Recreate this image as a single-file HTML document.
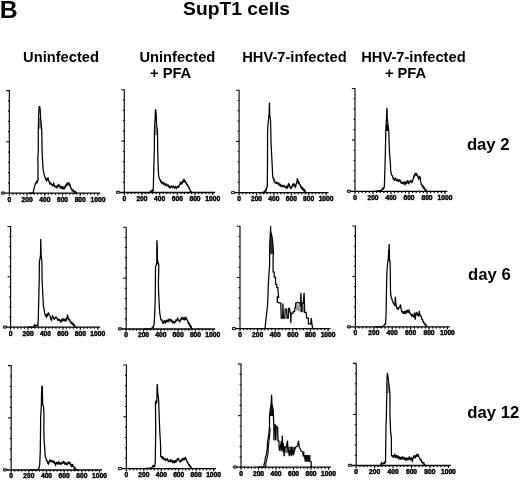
<!DOCTYPE html>
<html><head><meta charset="utf-8"><style>
html,body{margin:0;padding:0;background:#fff;width:520px;height:480px;overflow:hidden}
svg{position:absolute;left:0;top:0;filter:grayscale(1) blur(0.3px)}
.b{font-family:"Liberation Sans",sans-serif;font-weight:bold;fill:#000}
.yl{font-family:"Liberation Sans",sans-serif;font-weight:bold;font-size:6.2px;text-anchor:middle;dominant-baseline:central;fill:#000;stroke:#000;stroke-width:0.3px}
.tl{font-family:"Liberation Sans",sans-serif;font-weight:bold;font-size:6.7px;text-anchor:middle;fill:#000;stroke:#000;stroke-width:0.45px}
</style></head><body>
<svg width="520" height="480" viewBox="0 0 520 480">
<text class="b" x="-0.2" y="17.8" style="font-size:24.8px">B</text>
<text class="b" x="183.1" y="15.3" style="font-size:19.25px">SupT1 cells</text>
<text class="b" x="23.1" y="61.9" style="font-size:14.7px">Uninfected</text>
<text class="b" x="139.4" y="61.8" style="font-size:14.7px">Uninfected</text>
<text class="b" x="150" y="78.3" style="font-size:14.7px">+ PFA</text>
<text class="b" x="242.2" y="61.7" style="font-size:14.7px">HHV-7-infected</text>
<text class="b" x="361.2" y="61.7" style="font-size:14.7px">HHV-7-infected</text>
<text class="b" x="384.9" y="78" style="font-size:14.7px">+ PFA</text>
<text class="b" x="466.9" y="149.6" style="font-size:16.7px">day 2</text>
<text class="b" x="468.1" y="280" style="font-size:16.7px">day 6</text>
<text class="b" x="467.3" y="418" style="font-size:16.7px">day 12</text>
<path d="M6.15,90.60H9.35V193.10" fill="none" stroke="#111" stroke-width="1.2"/>
<path d="M7.95,182.85H9.35" stroke="#000" stroke-width="1.1"/>
<path d="M7.95,172.60H9.35" stroke="#000" stroke-width="1.1"/>
<path d="M7.95,162.35H9.35" stroke="#000" stroke-width="1.1"/>
<path d="M7.95,152.10H9.35" stroke="#000" stroke-width="1.1"/>
<path d="M6.35,141.85H9.35" stroke="#000" stroke-width="1.1"/>
<path d="M7.95,131.60H9.35" stroke="#000" stroke-width="1.1"/>
<path d="M7.95,121.35H9.35" stroke="#000" stroke-width="1.1"/>
<path d="M7.95,111.10H9.35" stroke="#000" stroke-width="1.1"/>
<path d="M7.95,100.85H9.35" stroke="#000" stroke-width="1.1"/>
<path d="M4.75,193.10H100.35" stroke="#000" stroke-width="1.3"/>
<path d="M9.35,193.10v2.6" stroke="#000" stroke-width="1.2"/>
<path d="M12.89,193.10v1.6" stroke="#000" stroke-width="1.2"/>
<path d="M16.44,193.10v1.6" stroke="#000" stroke-width="1.2"/>
<path d="M19.98,193.10v1.6" stroke="#000" stroke-width="1.2"/>
<path d="M23.53,193.10v1.6" stroke="#000" stroke-width="1.2"/>
<path d="M27.07,193.10v2.6" stroke="#000" stroke-width="1.2"/>
<path d="M30.61,193.10v1.6" stroke="#000" stroke-width="1.2"/>
<path d="M34.16,193.10v1.6" stroke="#000" stroke-width="1.2"/>
<path d="M37.70,193.10v1.6" stroke="#000" stroke-width="1.2"/>
<path d="M41.25,193.10v1.6" stroke="#000" stroke-width="1.2"/>
<path d="M44.79,193.10v2.6" stroke="#000" stroke-width="1.2"/>
<path d="M48.33,193.10v1.6" stroke="#000" stroke-width="1.2"/>
<path d="M51.88,193.10v1.6" stroke="#000" stroke-width="1.2"/>
<path d="M55.42,193.10v1.6" stroke="#000" stroke-width="1.2"/>
<path d="M58.97,193.10v1.6" stroke="#000" stroke-width="1.2"/>
<path d="M62.51,193.10v2.6" stroke="#000" stroke-width="1.2"/>
<path d="M66.05,193.10v1.6" stroke="#000" stroke-width="1.2"/>
<path d="M69.60,193.10v1.6" stroke="#000" stroke-width="1.2"/>
<path d="M73.14,193.10v1.6" stroke="#000" stroke-width="1.2"/>
<path d="M76.69,193.10v1.6" stroke="#000" stroke-width="1.2"/>
<path d="M80.23,193.10v2.6" stroke="#000" stroke-width="1.2"/>
<path d="M83.77,193.10v1.6" stroke="#000" stroke-width="1.2"/>
<path d="M87.32,193.10v1.6" stroke="#000" stroke-width="1.2"/>
<path d="M90.86,193.10v1.6" stroke="#000" stroke-width="1.2"/>
<path d="M94.41,193.10v1.6" stroke="#000" stroke-width="1.2"/>
<path d="M97.95,193.10v2.6" stroke="#000" stroke-width="1.2"/>
<text transform="translate(2.75,193.00) rotate(-90)" class="yl">0</text>
<text x="9.35" y="201.50" class="tl">0</text>
<text x="27.07" y="201.50" class="tl">200</text>
<text x="44.79" y="201.50" class="tl">400</text>
<text x="62.51" y="201.50" class="tl">600</text>
<text x="80.23" y="201.50" class="tl">800</text>
<text x="97.95" y="201.50" class="tl">1000</text>
<path d="M38.60,118.00 L40.60,118.00 L41.20,124.00 L41.70,128.70 L38.30,128.70Z" fill="#888"/>
<path d="M29.00,193.10 L33.20,193.10 L33.40,191.20 L34.10,188.40 L34.75,185.60 L35.10,185.42 L35.45,183.01 L35.80,182.80 L36.22,183.09 L36.65,181.59 L37.08,182.47 L37.50,181.50 L37.75,180.64 L38.00,181.00 L38.00,165.00 L37.80,159.40 L38.30,150.00 L38.30,128.70 L38.60,118.00 L38.90,109.00 L39.30,106.00 L39.55,107.23 L39.80,107.00 L40.20,110.00 L40.40,114.00 L40.60,118.00 L41.20,124.00 L41.70,128.70 L42.10,150.00 L42.50,159.40 L43.00,168.75 L43.90,173.40 L44.80,177.20 L45.17,177.39 L45.53,179.37 L45.90,179.50 L46.30,179.10 L46.70,180.80 L47.10,180.30 L47.47,178.76 L47.83,179.07 L48.20,177.60 L48.60,181.00 L49.00,181.08 L49.40,182.60 L49.77,183.54 L50.13,182.57 L50.50,183.40 L50.90,184.54 L51.30,183.34 L51.70,184.50 L52.07,185.64 L52.43,184.53 L52.80,185.70 L53.20,185.13 L53.60,183.40 L54.00,183.99 L54.40,186.00 L54.77,187.03 L55.13,185.83 L55.50,186.80 L55.90,187.33 L56.30,186.09 L56.70,186.50 L57.07,187.35 L57.43,186.29 L57.80,187.20 L58.60,183.80 L59.00,185.92 L59.40,186.50 L59.77,185.94 L60.13,187.60 L60.50,187.20 L60.90,186.84 L61.30,188.56 L61.70,188.40 L62.07,187.13 L62.43,187.99 L62.80,186.80 L63.20,186.98 L63.60,188.84 L64.00,188.80 L64.40,187.43 L64.80,188.01 L65.20,186.50 L65.57,185.41 L65.93,186.18 L66.30,185.30 L66.70,184.16 L67.10,185.06 L67.50,183.80 L67.85,182.84 L68.20,183.00 L68.60,184.08 L69.00,183.24 L69.40,184.50 L69.77,185.71 L70.13,185.17 L70.50,186.50 L70.90,188.21 L71.30,188.80 L71.70,188.64 L72.10,190.80 L72.50,190.70 L72.88,190.28 L73.25,191.61 L73.62,190.72 L74.00,191.50 L74.38,192.22 L74.75,190.87 L75.12,192.24 L75.50,191.80 L76.70,193.10 L77.10,193.10" fill="none" stroke="#000" stroke-width="1.25" stroke-linejoin="miter" stroke-miterlimit="3"/>
<path d="M121.10,89.75H124.30V192.50" fill="none" stroke="#111" stroke-width="1.2"/>
<path d="M122.90,182.22H124.30" stroke="#000" stroke-width="1.1"/>
<path d="M122.90,171.95H124.30" stroke="#000" stroke-width="1.1"/>
<path d="M122.90,161.68H124.30" stroke="#000" stroke-width="1.1"/>
<path d="M122.90,151.40H124.30" stroke="#000" stroke-width="1.1"/>
<path d="M121.30,141.12H124.30" stroke="#000" stroke-width="1.1"/>
<path d="M122.90,130.85H124.30" stroke="#000" stroke-width="1.1"/>
<path d="M122.90,120.58H124.30" stroke="#000" stroke-width="1.1"/>
<path d="M122.90,110.30H124.30" stroke="#000" stroke-width="1.1"/>
<path d="M122.90,100.03H124.30" stroke="#000" stroke-width="1.1"/>
<path d="M119.70,192.50H215.10" stroke="#000" stroke-width="1.3"/>
<path d="M124.30,192.50v2.6" stroke="#000" stroke-width="1.2"/>
<path d="M127.84,192.50v1.6" stroke="#000" stroke-width="1.2"/>
<path d="M131.37,192.50v1.6" stroke="#000" stroke-width="1.2"/>
<path d="M134.91,192.50v1.6" stroke="#000" stroke-width="1.2"/>
<path d="M138.44,192.50v1.6" stroke="#000" stroke-width="1.2"/>
<path d="M141.98,192.50v2.6" stroke="#000" stroke-width="1.2"/>
<path d="M145.52,192.50v1.6" stroke="#000" stroke-width="1.2"/>
<path d="M149.05,192.50v1.6" stroke="#000" stroke-width="1.2"/>
<path d="M152.59,192.50v1.6" stroke="#000" stroke-width="1.2"/>
<path d="M156.12,192.50v1.6" stroke="#000" stroke-width="1.2"/>
<path d="M159.66,192.50v2.6" stroke="#000" stroke-width="1.2"/>
<path d="M163.20,192.50v1.6" stroke="#000" stroke-width="1.2"/>
<path d="M166.73,192.50v1.6" stroke="#000" stroke-width="1.2"/>
<path d="M170.27,192.50v1.6" stroke="#000" stroke-width="1.2"/>
<path d="M173.80,192.50v1.6" stroke="#000" stroke-width="1.2"/>
<path d="M177.34,192.50v2.6" stroke="#000" stroke-width="1.2"/>
<path d="M180.88,192.50v1.6" stroke="#000" stroke-width="1.2"/>
<path d="M184.41,192.50v1.6" stroke="#000" stroke-width="1.2"/>
<path d="M187.95,192.50v1.6" stroke="#000" stroke-width="1.2"/>
<path d="M191.48,192.50v1.6" stroke="#000" stroke-width="1.2"/>
<path d="M195.02,192.50v2.6" stroke="#000" stroke-width="1.2"/>
<path d="M198.56,192.50v1.6" stroke="#000" stroke-width="1.2"/>
<path d="M202.09,192.50v1.6" stroke="#000" stroke-width="1.2"/>
<path d="M205.63,192.50v1.6" stroke="#000" stroke-width="1.2"/>
<path d="M209.16,192.50v1.6" stroke="#000" stroke-width="1.2"/>
<path d="M212.70,192.50v2.6" stroke="#000" stroke-width="1.2"/>
<text transform="translate(117.70,192.40) rotate(-90)" class="yl">0</text>
<text x="124.30" y="200.90" class="tl">0</text>
<text x="141.98" y="200.90" class="tl">200</text>
<text x="159.66" y="200.90" class="tl">400</text>
<text x="177.34" y="200.90" class="tl">600</text>
<text x="195.02" y="200.90" class="tl">800</text>
<text x="212.70" y="200.90" class="tl">1000</text>
<path d="M154.60,126.00 L156.50,124.80 L157.40,130.00 L157.50,135.20 L154.40,135.20Z" fill="#999"/>
<path d="M144.00,192.50 L149.70,192.50 L150.20,191.70 L150.65,191.87 L151.10,191.00 L151.45,190.20 L151.80,191.62 L152.15,190.29 L152.50,190.80 L152.88,191.19 L153.25,190.30 L153.90,164.00 L154.40,150.00 L154.40,135.20 L154.60,126.00 L155.10,120.00 L155.30,112.00 L155.50,109.70 L155.70,109.73 L155.90,111.00 L156.30,116.00 L156.50,124.80 L157.40,130.00 L157.50,135.20 L157.70,150.00 L158.10,164.00 L158.60,175.30 L159.10,177.20 L159.55,179.29 L160.00,180.00 L160.35,179.84 L160.70,181.66 L161.05,181.24 L161.40,182.30 L161.78,183.25 L162.16,182.08 L162.54,183.62 L162.92,182.62 L163.30,183.30 L163.77,184.22 L164.23,183.19 L164.70,184.20 L165.08,184.85 L165.46,183.62 L165.84,185.27 L166.22,184.11 L166.60,184.70 L166.96,185.47 L167.32,184.61 L167.68,186.32 L168.04,185.22 L168.40,186.10 L168.78,186.83 L169.16,185.84 L169.54,187.13 L169.92,186.27 L170.30,187.00 L170.68,187.54 L171.06,186.20 L171.44,187.31 L171.82,186.13 L172.20,186.60 L172.56,187.23 L172.92,186.13 L173.28,187.41 L173.64,186.43 L174.00,187.00 L174.38,187.85 L174.76,186.54 L175.14,187.99 L175.52,186.86 L175.90,187.50 L176.28,188.20 L176.66,186.54 L177.04,187.72 L177.42,186.51 L177.80,187.00 L178.23,187.31 L178.65,185.49 L179.07,186.58 L179.50,185.40 L180.30,182.30 L180.70,182.18 L181.10,184.05 L181.50,183.80 L181.87,182.61 L182.23,183.38 L182.60,182.30 L183.00,180.73 L183.40,181.26 L183.80,179.60 L184.17,179.48 L184.53,181.51 L184.90,181.50 L185.30,181.23 L185.70,182.79 L186.10,182.70 L186.47,182.78 L186.83,184.70 L187.20,184.60 L187.60,184.62 L188.00,186.40 L188.40,186.50 L188.77,186.61 L189.13,188.74 L189.50,188.80 L189.90,189.10 L190.30,190.80 L190.70,191.85 L191.10,191.70 L192.00,192.50" fill="none" stroke="#000" stroke-width="1.25" stroke-linejoin="miter" stroke-miterlimit="3"/>
<path d="M235.90,90.25H239.10V192.60" fill="none" stroke="#111" stroke-width="1.2"/>
<path d="M237.70,182.37H239.10" stroke="#000" stroke-width="1.1"/>
<path d="M237.70,172.13H239.10" stroke="#000" stroke-width="1.1"/>
<path d="M237.70,161.90H239.10" stroke="#000" stroke-width="1.1"/>
<path d="M237.70,151.66H239.10" stroke="#000" stroke-width="1.1"/>
<path d="M236.10,141.43H239.10" stroke="#000" stroke-width="1.1"/>
<path d="M237.70,131.19H239.10" stroke="#000" stroke-width="1.1"/>
<path d="M237.70,120.95H239.10" stroke="#000" stroke-width="1.1"/>
<path d="M237.70,110.72H239.10" stroke="#000" stroke-width="1.1"/>
<path d="M237.70,100.48H239.10" stroke="#000" stroke-width="1.1"/>
<path d="M234.50,192.60H328.50" stroke="#000" stroke-width="1.3"/>
<path d="M239.10,192.60v2.6" stroke="#000" stroke-width="1.2"/>
<path d="M242.58,192.60v1.6" stroke="#000" stroke-width="1.2"/>
<path d="M246.06,192.60v1.6" stroke="#000" stroke-width="1.2"/>
<path d="M249.54,192.60v1.6" stroke="#000" stroke-width="1.2"/>
<path d="M253.02,192.60v1.6" stroke="#000" stroke-width="1.2"/>
<path d="M256.50,192.60v2.6" stroke="#000" stroke-width="1.2"/>
<path d="M259.98,192.60v1.6" stroke="#000" stroke-width="1.2"/>
<path d="M263.46,192.60v1.6" stroke="#000" stroke-width="1.2"/>
<path d="M266.94,192.60v1.6" stroke="#000" stroke-width="1.2"/>
<path d="M270.42,192.60v1.6" stroke="#000" stroke-width="1.2"/>
<path d="M273.90,192.60v2.6" stroke="#000" stroke-width="1.2"/>
<path d="M277.38,192.60v1.6" stroke="#000" stroke-width="1.2"/>
<path d="M280.86,192.60v1.6" stroke="#000" stroke-width="1.2"/>
<path d="M284.34,192.60v1.6" stroke="#000" stroke-width="1.2"/>
<path d="M287.82,192.60v1.6" stroke="#000" stroke-width="1.2"/>
<path d="M291.30,192.60v2.6" stroke="#000" stroke-width="1.2"/>
<path d="M294.78,192.60v1.6" stroke="#000" stroke-width="1.2"/>
<path d="M298.26,192.60v1.6" stroke="#000" stroke-width="1.2"/>
<path d="M301.74,192.60v1.6" stroke="#000" stroke-width="1.2"/>
<path d="M305.22,192.60v1.6" stroke="#000" stroke-width="1.2"/>
<path d="M308.70,192.60v2.6" stroke="#000" stroke-width="1.2"/>
<path d="M312.18,192.60v1.6" stroke="#000" stroke-width="1.2"/>
<path d="M315.66,192.60v1.6" stroke="#000" stroke-width="1.2"/>
<path d="M319.14,192.60v1.6" stroke="#000" stroke-width="1.2"/>
<path d="M322.62,192.60v1.6" stroke="#000" stroke-width="1.2"/>
<path d="M326.10,192.60v2.6" stroke="#000" stroke-width="1.2"/>
<text transform="translate(232.50,192.50) rotate(-90)" class="yl">0</text>
<text x="239.10" y="201.00" class="tl">0</text>
<text x="256.50" y="201.00" class="tl">200</text>
<text x="273.90" y="201.00" class="tl">400</text>
<text x="291.30" y="201.00" class="tl">600</text>
<text x="308.70" y="201.00" class="tl">800</text>
<text x="326.10" y="201.00" class="tl">1000</text>
<path d="M259.00,192.60 L262.80,192.60 L263.90,191.90 L264.27,192.41 L264.65,190.57 L265.02,191.57 L265.40,190.80 L265.77,189.79 L266.13,190.55 L266.50,189.30 L266.90,187.28 L267.30,186.70 L267.50,160.60 L267.60,130.00 L268.20,122.00 L269.10,114.25 L269.30,106.00 L269.45,102.90 L269.60,106.00 L269.70,114.25 L270.50,120.00 L270.80,131.60 L271.10,145.00 L271.70,155.40 L272.20,165.80 L272.70,176.25 L273.05,177.99 L273.40,177.77 L273.75,179.40 L274.10,180.77 L274.45,180.13 L274.80,181.50 L275.30,182.92 L275.80,183.00 L276.20,182.59 L276.60,183.87 L277.00,182.77 L277.40,183.50 L277.90,183.96 L278.40,183.00 L278.77,182.90 L279.13,185.18 L279.50,185.10 L279.92,184.65 L280.34,186.12 L280.76,185.13 L281.18,186.39 L281.60,186.10 L282.00,185.61 L282.40,186.73 L282.80,185.52 L283.20,186.70 L283.60,186.10 L284.02,185.55 L284.44,187.19 L284.86,186.10 L285.28,187.54 L285.70,187.20 L286.12,186.71 L286.54,187.78 L286.96,186.68 L287.38,187.84 L287.80,187.20 L288.00,185.40 L288.40,184.07 L288.80,185.03 L289.20,183.80 L289.90,187.30 L290.30,187.36 L290.70,188.50 L291.07,188.50 L291.43,186.23 L291.80,186.20 L292.20,186.65 L292.60,184.90 L293.00,185.40 L293.40,185.59 L293.80,183.60 L294.20,183.80 L294.57,185.56 L294.93,185.34 L295.30,187.30 L295.70,186.74 L296.10,184.60 L296.45,183.32 L296.80,183.10 L297.40,178.10 L298.00,181.90 L298.40,183.02 L298.80,181.99 L299.20,183.10 L299.55,184.48 L299.90,184.60 L300.30,184.90 L300.70,186.50 L301.07,187.54 L301.43,186.52 L301.80,187.70 L302.20,188.84 L302.60,187.95 L303.00,189.20 L303.40,190.19 L303.80,189.24 L304.20,190.40 L304.57,191.53 L304.93,190.51 L305.30,191.50 L306.10,192.60 L307.00,192.60" fill="none" stroke="#000" stroke-width="1.25" stroke-linejoin="miter" stroke-miterlimit="3"/>
<path d="M351.80,88.50H355.00V191.30" fill="none" stroke="#111" stroke-width="1.2"/>
<path d="M353.60,181.02H355.00" stroke="#000" stroke-width="1.1"/>
<path d="M353.60,170.74H355.00" stroke="#000" stroke-width="1.1"/>
<path d="M353.60,160.46H355.00" stroke="#000" stroke-width="1.1"/>
<path d="M353.60,150.18H355.00" stroke="#000" stroke-width="1.1"/>
<path d="M352.00,139.90H355.00" stroke="#000" stroke-width="1.1"/>
<path d="M353.60,129.62H355.00" stroke="#000" stroke-width="1.1"/>
<path d="M353.60,119.34H355.00" stroke="#000" stroke-width="1.1"/>
<path d="M353.60,109.06H355.00" stroke="#000" stroke-width="1.1"/>
<path d="M353.60,98.78H355.00" stroke="#000" stroke-width="1.1"/>
<path d="M350.40,191.30H447.40" stroke="#000" stroke-width="1.3"/>
<path d="M355.00,191.30v2.6" stroke="#000" stroke-width="1.2"/>
<path d="M358.60,191.30v1.6" stroke="#000" stroke-width="1.2"/>
<path d="M362.20,191.30v1.6" stroke="#000" stroke-width="1.2"/>
<path d="M365.80,191.30v1.6" stroke="#000" stroke-width="1.2"/>
<path d="M369.40,191.30v1.6" stroke="#000" stroke-width="1.2"/>
<path d="M373.00,191.30v2.6" stroke="#000" stroke-width="1.2"/>
<path d="M376.60,191.30v1.6" stroke="#000" stroke-width="1.2"/>
<path d="M380.20,191.30v1.6" stroke="#000" stroke-width="1.2"/>
<path d="M383.80,191.30v1.6" stroke="#000" stroke-width="1.2"/>
<path d="M387.40,191.30v1.6" stroke="#000" stroke-width="1.2"/>
<path d="M391.00,191.30v2.6" stroke="#000" stroke-width="1.2"/>
<path d="M394.60,191.30v1.6" stroke="#000" stroke-width="1.2"/>
<path d="M398.20,191.30v1.6" stroke="#000" stroke-width="1.2"/>
<path d="M401.80,191.30v1.6" stroke="#000" stroke-width="1.2"/>
<path d="M405.40,191.30v1.6" stroke="#000" stroke-width="1.2"/>
<path d="M409.00,191.30v2.6" stroke="#000" stroke-width="1.2"/>
<path d="M412.60,191.30v1.6" stroke="#000" stroke-width="1.2"/>
<path d="M416.20,191.30v1.6" stroke="#000" stroke-width="1.2"/>
<path d="M419.80,191.30v1.6" stroke="#000" stroke-width="1.2"/>
<path d="M423.40,191.30v1.6" stroke="#000" stroke-width="1.2"/>
<path d="M427.00,191.30v2.6" stroke="#000" stroke-width="1.2"/>
<path d="M430.60,191.30v1.6" stroke="#000" stroke-width="1.2"/>
<path d="M434.20,191.30v1.6" stroke="#000" stroke-width="1.2"/>
<path d="M437.80,191.30v1.6" stroke="#000" stroke-width="1.2"/>
<path d="M441.40,191.30v1.6" stroke="#000" stroke-width="1.2"/>
<path d="M445.00,191.30v2.6" stroke="#000" stroke-width="1.2"/>
<text transform="translate(348.40,191.20) rotate(-90)" class="yl">0</text>
<text x="355.00" y="199.70" class="tl">0</text>
<text x="373.00" y="199.70" class="tl">200</text>
<text x="391.00" y="199.70" class="tl">400</text>
<text x="409.00" y="199.70" class="tl">600</text>
<text x="427.00" y="199.70" class="tl">800</text>
<text x="445.00" y="199.70" class="tl">1000</text>
<path d="M385.80,131.00 L386.10,124.00 L387.90,124.00 L388.80,131.00Z" fill="#000"/>
<path d="M375.00,191.30 L380.90,190.30 L381.40,190.61 L381.90,189.80 L382.30,188.88 L382.70,189.87 L383.10,188.34 L383.50,188.75 L383.90,188.41 L384.30,186.70 L384.70,176.25 L385.30,155.40 L385.80,131.00 L386.10,124.00 L386.60,117.00 L386.80,110.00 L386.90,108.00 L387.10,110.00 L387.20,117.00 L387.90,124.00 L388.80,131.00 L389.20,145.00 L389.70,155.40 L390.50,165.80 L390.75,172.00 L391.10,172.57 L391.45,174.62 L391.80,175.20 L392.30,175.50 L392.80,177.30 L393.17,178.56 L393.53,178.15 L393.90,179.40 L394.27,179.92 L394.65,178.22 L395.02,179.32 L395.40,178.30 L395.77,178.37 L396.13,180.38 L396.50,180.40 L396.88,180.00 L397.25,181.33 L397.62,180.02 L398.00,180.90 L398.40,181.30 L398.80,179.68 L399.20,180.84 L399.60,179.90 L400.10,180.20 L400.60,181.50 L401.00,182.60 L401.40,181.58 L401.80,183.20 L402.20,183.00 L402.60,182.64 L403.00,184.01 L403.40,182.74 L403.80,183.50 L404.20,184.08 L404.60,182.47 L405.00,183.10 L405.40,183.94 L405.80,182.59 L406.20,183.50 L406.57,183.21 L406.93,180.96 L407.30,180.80 L407.70,182.19 L408.10,181.55 L408.50,183.10 L408.87,183.59 L409.23,182.06 L409.60,182.30 L410.00,182.19 L410.40,180.48 L410.80,180.40 L411.18,181.66 L411.55,180.73 L411.93,182.51 L412.30,182.30 L413.50,177.70 L413.87,176.22 L414.23,176.54 L414.60,175.00 L415.00,173.90 L415.40,174.59 L415.80,173.50 L416.17,173.33 L416.53,175.17 L416.90,175.00 L417.30,174.86 L417.70,176.96 L418.10,176.90 L418.45,177.27 L418.80,179.20 L419.20,178.60 L419.60,176.50 L420.00,176.70 L420.40,178.50 L420.80,182.30 L421.15,184.14 L421.50,184.60 L421.90,184.70 L422.30,186.62 L422.70,186.50 L423.07,186.11 L423.43,188.07 L423.80,187.70 L424.20,187.59 L424.60,188.80 L425.00,190.11 L425.40,190.00 L425.80,189.65 L426.20,190.40 L427.00,191.30" fill="none" stroke="#000" stroke-width="1.25" stroke-linejoin="miter" stroke-miterlimit="3"/>
<path d="M7.40,226.50H10.60V327.10" fill="none" stroke="#111" stroke-width="1.2"/>
<path d="M9.20,317.04H10.60" stroke="#000" stroke-width="1.1"/>
<path d="M9.20,306.98H10.60" stroke="#000" stroke-width="1.1"/>
<path d="M9.20,296.92H10.60" stroke="#000" stroke-width="1.1"/>
<path d="M9.20,286.86H10.60" stroke="#000" stroke-width="1.1"/>
<path d="M7.60,276.80H10.60" stroke="#000" stroke-width="1.1"/>
<path d="M9.20,266.74H10.60" stroke="#000" stroke-width="1.1"/>
<path d="M9.20,256.68H10.60" stroke="#000" stroke-width="1.1"/>
<path d="M9.20,246.62H10.60" stroke="#000" stroke-width="1.1"/>
<path d="M9.20,236.56H10.60" stroke="#000" stroke-width="1.1"/>
<path d="M6.00,327.10H100.20" stroke="#000" stroke-width="1.3"/>
<path d="M10.60,327.10v2.6" stroke="#000" stroke-width="1.2"/>
<path d="M14.09,327.10v1.6" stroke="#000" stroke-width="1.2"/>
<path d="M17.58,327.10v1.6" stroke="#000" stroke-width="1.2"/>
<path d="M21.06,327.10v1.6" stroke="#000" stroke-width="1.2"/>
<path d="M24.55,327.10v1.6" stroke="#000" stroke-width="1.2"/>
<path d="M28.04,327.10v2.6" stroke="#000" stroke-width="1.2"/>
<path d="M31.53,327.10v1.6" stroke="#000" stroke-width="1.2"/>
<path d="M35.02,327.10v1.6" stroke="#000" stroke-width="1.2"/>
<path d="M38.50,327.10v1.6" stroke="#000" stroke-width="1.2"/>
<path d="M41.99,327.10v1.6" stroke="#000" stroke-width="1.2"/>
<path d="M45.48,327.10v2.6" stroke="#000" stroke-width="1.2"/>
<path d="M48.97,327.10v1.6" stroke="#000" stroke-width="1.2"/>
<path d="M52.46,327.10v1.6" stroke="#000" stroke-width="1.2"/>
<path d="M55.94,327.10v1.6" stroke="#000" stroke-width="1.2"/>
<path d="M59.43,327.10v1.6" stroke="#000" stroke-width="1.2"/>
<path d="M62.92,327.10v2.6" stroke="#000" stroke-width="1.2"/>
<path d="M66.41,327.10v1.6" stroke="#000" stroke-width="1.2"/>
<path d="M69.90,327.10v1.6" stroke="#000" stroke-width="1.2"/>
<path d="M73.38,327.10v1.6" stroke="#000" stroke-width="1.2"/>
<path d="M76.87,327.10v1.6" stroke="#000" stroke-width="1.2"/>
<path d="M80.36,327.10v2.6" stroke="#000" stroke-width="1.2"/>
<path d="M83.85,327.10v1.6" stroke="#000" stroke-width="1.2"/>
<path d="M87.34,327.10v1.6" stroke="#000" stroke-width="1.2"/>
<path d="M90.82,327.10v1.6" stroke="#000" stroke-width="1.2"/>
<path d="M94.31,327.10v1.6" stroke="#000" stroke-width="1.2"/>
<path d="M97.80,327.10v2.6" stroke="#000" stroke-width="1.2"/>
<text transform="translate(4.00,327.00) rotate(-90)" class="yl">0</text>
<text x="10.60" y="335.50" class="tl">0</text>
<text x="28.04" y="335.50" class="tl">200</text>
<text x="45.48" y="335.50" class="tl">400</text>
<text x="62.92" y="335.50" class="tl">600</text>
<text x="80.36" y="335.50" class="tl">800</text>
<text x="97.80" y="335.50" class="tl">1000</text>
<path d="M28.00,327.10 L33.50,327.10 L33.75,327.10 L34.00,325.80 L34.39,325.13 L34.78,326.36 L35.17,325.10 L35.56,326.34 L35.95,324.81 L36.34,326.19 L36.73,324.92 L37.12,326.05 L37.51,324.77 L37.90,325.30 L38.20,321.70 L38.70,300.80 L39.20,280.00 L39.40,262.00 L40.50,255.70 L40.60,248.00 L40.70,238.90 L40.90,245.00 L41.00,250.00 L41.20,255.70 L41.90,262.00 L42.10,280.00 L42.60,290.40 L43.40,306.00 L44.10,309.20 L44.70,313.30 L45.20,315.16 L45.70,315.90 L46.05,315.32 L46.40,317.10 L46.75,316.50 L47.10,315.14 L47.45,315.52 L47.80,313.90 L48.30,312.93 L48.80,313.30 L49.10,314.95 L49.40,315.40 L49.90,315.63 L50.40,317.00 L50.90,319.25 L51.40,320.10 L52.50,315.90 L53.00,316.32 L53.50,318.00 L53.90,318.82 L54.30,317.56 L54.70,318.90 L55.10,318.50 L55.60,317.02 L56.10,317.00 L56.47,318.46 L56.83,317.54 L57.20,319.00 L57.58,319.83 L57.95,318.81 L58.33,319.93 L58.70,319.60 L59.10,319.45 L59.50,321.13 L59.90,320.15 L60.30,321.10 L60.75,322.10 L61.20,321.90 L61.57,320.23 L61.93,320.68 L62.30,319.20 L62.70,318.81 L63.10,320.35 L63.50,320.00 L63.87,319.37 L64.23,320.40 L64.60,319.60 L65.00,319.25 L65.40,320.93 L65.80,320.80 L66.17,319.48 L66.53,319.88 L66.90,318.50 L67.50,314.60 L68.10,318.10 L68.47,318.11 L68.83,319.74 L69.20,319.60 L69.60,319.49 L70.00,321.56 L70.40,321.50 L70.77,321.38 L71.13,323.32 L71.50,323.10 L71.90,322.81 L72.30,324.23 L72.70,323.80 L73.07,323.47 L73.43,325.01 L73.80,324.60 L74.20,324.62 L74.60,326.39 L75.00,326.20 L75.80,327.10 L76.50,327.10" fill="none" stroke="#000" stroke-width="1.25" stroke-linejoin="miter" stroke-miterlimit="3"/>
<path d="M123.00,227.25H126.20V329.00" fill="none" stroke="#111" stroke-width="1.2"/>
<path d="M124.80,318.82H126.20" stroke="#000" stroke-width="1.1"/>
<path d="M124.80,308.65H126.20" stroke="#000" stroke-width="1.1"/>
<path d="M124.80,298.48H126.20" stroke="#000" stroke-width="1.1"/>
<path d="M124.80,288.30H126.20" stroke="#000" stroke-width="1.1"/>
<path d="M123.20,278.12H126.20" stroke="#000" stroke-width="1.1"/>
<path d="M124.80,267.95H126.20" stroke="#000" stroke-width="1.1"/>
<path d="M124.80,257.77H126.20" stroke="#000" stroke-width="1.1"/>
<path d="M124.80,247.60H126.20" stroke="#000" stroke-width="1.1"/>
<path d="M124.80,237.43H126.20" stroke="#000" stroke-width="1.1"/>
<path d="M121.60,329.00H215.20" stroke="#000" stroke-width="1.3"/>
<path d="M126.20,329.00v2.6" stroke="#000" stroke-width="1.2"/>
<path d="M129.66,329.00v1.6" stroke="#000" stroke-width="1.2"/>
<path d="M133.13,329.00v1.6" stroke="#000" stroke-width="1.2"/>
<path d="M136.59,329.00v1.6" stroke="#000" stroke-width="1.2"/>
<path d="M140.06,329.00v1.6" stroke="#000" stroke-width="1.2"/>
<path d="M143.52,329.00v2.6" stroke="#000" stroke-width="1.2"/>
<path d="M146.98,329.00v1.6" stroke="#000" stroke-width="1.2"/>
<path d="M150.45,329.00v1.6" stroke="#000" stroke-width="1.2"/>
<path d="M153.91,329.00v1.6" stroke="#000" stroke-width="1.2"/>
<path d="M157.38,329.00v1.6" stroke="#000" stroke-width="1.2"/>
<path d="M160.84,329.00v2.6" stroke="#000" stroke-width="1.2"/>
<path d="M164.30,329.00v1.6" stroke="#000" stroke-width="1.2"/>
<path d="M167.77,329.00v1.6" stroke="#000" stroke-width="1.2"/>
<path d="M171.23,329.00v1.6" stroke="#000" stroke-width="1.2"/>
<path d="M174.70,329.00v1.6" stroke="#000" stroke-width="1.2"/>
<path d="M178.16,329.00v2.6" stroke="#000" stroke-width="1.2"/>
<path d="M181.62,329.00v1.6" stroke="#000" stroke-width="1.2"/>
<path d="M185.09,329.00v1.6" stroke="#000" stroke-width="1.2"/>
<path d="M188.55,329.00v1.6" stroke="#000" stroke-width="1.2"/>
<path d="M192.02,329.00v1.6" stroke="#000" stroke-width="1.2"/>
<path d="M195.48,329.00v2.6" stroke="#000" stroke-width="1.2"/>
<path d="M198.94,329.00v1.6" stroke="#000" stroke-width="1.2"/>
<path d="M202.41,329.00v1.6" stroke="#000" stroke-width="1.2"/>
<path d="M205.87,329.00v1.6" stroke="#000" stroke-width="1.2"/>
<path d="M209.34,329.00v1.6" stroke="#000" stroke-width="1.2"/>
<path d="M212.80,329.00v2.6" stroke="#000" stroke-width="1.2"/>
<text transform="translate(119.60,328.90) rotate(-90)" class="yl">0</text>
<text x="126.20" y="337.40" class="tl">0</text>
<text x="143.52" y="337.40" class="tl">200</text>
<text x="160.84" y="337.40" class="tl">400</text>
<text x="178.16" y="337.40" class="tl">600</text>
<text x="195.48" y="337.40" class="tl">800</text>
<text x="212.80" y="337.40" class="tl">1000</text>
<path d="M144.00,329.00 L150.50,329.00 L151.30,328.40 L151.80,328.62 L152.30,327.60 L152.67,326.67 L153.03,327.84 L153.40,326.80 L154.20,323.70 L154.70,313.25 L155.25,297.60 L155.50,267.40 L155.90,265.57 L156.30,265.00 L156.80,262.00 L156.80,250.00 L156.90,240.30 L157.20,245.00 L157.40,255.00 L157.60,262.00 L158.00,263.64 L158.40,263.33 L158.80,265.00 L158.60,275.00 L158.40,282.00 L158.60,292.40 L159.40,308.00 L159.80,313.25 L160.70,318.50 L160.95,319.79 L161.20,320.00 L161.70,319.86 L162.20,321.00 L162.57,322.58 L162.93,322.07 L163.30,323.70 L163.80,322.61 L164.30,320.50 L164.67,320.79 L165.03,322.74 L165.40,323.10 L165.90,321.06 L166.40,320.50 L166.90,321.75 L167.40,321.60 L167.77,320.57 L168.13,321.33 L168.50,320.00 L168.88,319.46 L169.25,321.19 L169.62,320.07 L170.00,321.00 L170.50,320.78 L171.00,319.50 L171.37,319.85 L171.73,321.82 L172.10,322.00 L172.50,321.50 L172.90,322.54 L173.30,321.44 L173.70,322.00 L174.09,322.49 L174.47,321.37 L174.86,322.62 L175.25,322.00 L175.64,320.75 L176.03,321.65 L176.41,319.82 L176.80,320.00 L177.17,320.14 L177.53,318.31 L177.90,318.50 L178.40,320.13 L178.90,320.50 L179.20,320.63 L179.50,321.90 L179.87,321.93 L180.23,319.57 L180.60,319.60 L181.00,319.85 L181.40,317.89 L181.80,318.10 L182.17,318.81 L182.53,317.81 L182.90,318.50 L183.30,319.17 L183.70,318.20 L184.10,318.80 L184.47,319.43 L184.83,317.99 L185.20,318.50 L185.60,319.12 L186.00,317.63 L186.40,318.10 L186.80,319.84 L187.20,320.00 L187.55,320.40 L187.90,322.30 L188.30,323.28 L188.70,322.75 L189.10,323.80 L189.47,325.24 L189.83,324.50 L190.20,325.80 L190.60,327.23 L191.00,326.46 L191.40,327.70 L191.60,328.85 L191.80,329.00 L192.50,329.00" fill="none" stroke="#000" stroke-width="1.25" stroke-linejoin="miter" stroke-miterlimit="3"/>
<path d="M236.80,226.25H240.00V328.60" fill="none" stroke="#111" stroke-width="1.2"/>
<path d="M238.60,318.37H240.00" stroke="#000" stroke-width="1.1"/>
<path d="M238.60,308.13H240.00" stroke="#000" stroke-width="1.1"/>
<path d="M238.60,297.90H240.00" stroke="#000" stroke-width="1.1"/>
<path d="M238.60,287.66H240.00" stroke="#000" stroke-width="1.1"/>
<path d="M237.00,277.43H240.00" stroke="#000" stroke-width="1.1"/>
<path d="M238.60,267.19H240.00" stroke="#000" stroke-width="1.1"/>
<path d="M238.60,256.96H240.00" stroke="#000" stroke-width="1.1"/>
<path d="M238.60,246.72H240.00" stroke="#000" stroke-width="1.1"/>
<path d="M238.60,236.49H240.00" stroke="#000" stroke-width="1.1"/>
<path d="M235.40,328.60H330.50" stroke="#000" stroke-width="1.3"/>
<path d="M240.00,328.60v2.6" stroke="#000" stroke-width="1.2"/>
<path d="M243.52,328.60v1.6" stroke="#000" stroke-width="1.2"/>
<path d="M247.05,328.60v1.6" stroke="#000" stroke-width="1.2"/>
<path d="M250.57,328.60v1.6" stroke="#000" stroke-width="1.2"/>
<path d="M254.10,328.60v1.6" stroke="#000" stroke-width="1.2"/>
<path d="M257.62,328.60v2.6" stroke="#000" stroke-width="1.2"/>
<path d="M261.14,328.60v1.6" stroke="#000" stroke-width="1.2"/>
<path d="M264.67,328.60v1.6" stroke="#000" stroke-width="1.2"/>
<path d="M268.19,328.60v1.6" stroke="#000" stroke-width="1.2"/>
<path d="M271.72,328.60v1.6" stroke="#000" stroke-width="1.2"/>
<path d="M275.24,328.60v2.6" stroke="#000" stroke-width="1.2"/>
<path d="M278.76,328.60v1.6" stroke="#000" stroke-width="1.2"/>
<path d="M282.29,328.60v1.6" stroke="#000" stroke-width="1.2"/>
<path d="M285.81,328.60v1.6" stroke="#000" stroke-width="1.2"/>
<path d="M289.34,328.60v1.6" stroke="#000" stroke-width="1.2"/>
<path d="M292.86,328.60v2.6" stroke="#000" stroke-width="1.2"/>
<path d="M296.38,328.60v1.6" stroke="#000" stroke-width="1.2"/>
<path d="M299.91,328.60v1.6" stroke="#000" stroke-width="1.2"/>
<path d="M303.43,328.60v1.6" stroke="#000" stroke-width="1.2"/>
<path d="M306.96,328.60v1.6" stroke="#000" stroke-width="1.2"/>
<path d="M310.48,328.60v2.6" stroke="#000" stroke-width="1.2"/>
<path d="M314.00,328.60v1.6" stroke="#000" stroke-width="1.2"/>
<path d="M317.53,328.60v1.6" stroke="#000" stroke-width="1.2"/>
<path d="M321.05,328.60v1.6" stroke="#000" stroke-width="1.2"/>
<path d="M324.58,328.60v1.6" stroke="#000" stroke-width="1.2"/>
<path d="M328.10,328.60v2.6" stroke="#000" stroke-width="1.2"/>
<text transform="translate(233.40,328.50) rotate(-90)" class="yl">0</text>
<text x="240.00" y="337.00" class="tl">0</text>
<text x="257.62" y="337.00" class="tl">200</text>
<text x="275.24" y="337.00" class="tl">400</text>
<text x="292.86" y="337.00" class="tl">600</text>
<text x="310.48" y="337.00" class="tl">800</text>
<text x="328.10" y="337.00" class="tl">1000</text>
<path d="M269.60,254.30 L269.80,245.00 L270.10,237.60 L270.50,231.40 L270.70,231.40 L272.20,237.60 L273.00,248.00 L273.30,254.30Z" fill="#333"/>
<path d="M296.00,303.00 L300.40,306.50 L301.50,312.30 L296.00,310.00Z" fill="#999"/>
<path d="M302.10,303.00 L303.30,303.00 L304.70,312.30 L301.50,312.30Z" fill="#777"/>
<path d="M256.00,328.60 L265.00,328.60 L265.60,322.80 L266.60,313.40 L267.60,305.00 L268.00,295.00 L268.30,285.00 L268.75,277.40 L269.60,265.00 L269.60,254.30 L269.80,245.00 L270.10,237.60 L270.50,231.40 L270.60,226.20 L270.70,231.40 L272.20,237.60 L273.20,248.00 L273.50,254.30 L273.10,256.00 L273.10,271.90 L274.20,272.00 L274.20,277.00 L275.50,277.00 L275.70,284.40 L276.80,284.50 L276.80,287.50 L277.80,287.50 L278.60,297.60 L277.30,297.00 L277.30,302.00 L279.90,303.00 L280.80,303.00 L281.20,318.00 L282.60,318.00 L283.00,303.50 L283.40,318.00 L284.80,318.00 L285.20,309.00 L286.60,309.00 L287.00,318.00 L288.30,318.00 L288.60,308.30 L289.60,308.30 L290.00,312.30 L290.50,312.30 L290.80,323.30 L291.20,313.40 L292.90,313.40 L293.20,311.70 L294.60,311.70 L295.00,307.70 L295.40,307.70 L295.80,303.00 L298.00,302.50 L299.80,303.00 L300.40,306.50 L300.90,292.70 L301.50,312.30 L302.10,303.00 L303.30,303.00 L304.10,292.70 L304.70,312.30 L306.10,312.30 L306.70,318.00 L308.40,318.00 L308.40,323.80 L310.70,323.80 L311.30,318.00 L311.90,323.80 L312.50,327.30 L312.60,328.60 L313.00,328.60" fill="none" stroke="#000" stroke-width="1.25" stroke-linejoin="miter" stroke-miterlimit="3"/>
<path d="M352.20,226.00H355.40V326.90" fill="none" stroke="#111" stroke-width="1.2"/>
<path d="M354.00,316.81H355.40" stroke="#000" stroke-width="1.1"/>
<path d="M354.00,306.72H355.40" stroke="#000" stroke-width="1.1"/>
<path d="M354.00,296.63H355.40" stroke="#000" stroke-width="1.1"/>
<path d="M354.00,286.54H355.40" stroke="#000" stroke-width="1.1"/>
<path d="M352.40,276.45H355.40" stroke="#000" stroke-width="1.1"/>
<path d="M354.00,266.36H355.40" stroke="#000" stroke-width="1.1"/>
<path d="M354.00,256.27H355.40" stroke="#000" stroke-width="1.1"/>
<path d="M354.00,246.18H355.40" stroke="#000" stroke-width="1.1"/>
<path d="M354.00,236.09H355.40" stroke="#000" stroke-width="1.1"/>
<path d="M350.80,326.90H449.80" stroke="#000" stroke-width="1.3"/>
<path d="M355.40,326.90v2.6" stroke="#000" stroke-width="1.2"/>
<path d="M359.08,326.90v1.6" stroke="#000" stroke-width="1.2"/>
<path d="M362.76,326.90v1.6" stroke="#000" stroke-width="1.2"/>
<path d="M366.44,326.90v1.6" stroke="#000" stroke-width="1.2"/>
<path d="M370.12,326.90v1.6" stroke="#000" stroke-width="1.2"/>
<path d="M373.80,326.90v2.6" stroke="#000" stroke-width="1.2"/>
<path d="M377.48,326.90v1.6" stroke="#000" stroke-width="1.2"/>
<path d="M381.16,326.90v1.6" stroke="#000" stroke-width="1.2"/>
<path d="M384.84,326.90v1.6" stroke="#000" stroke-width="1.2"/>
<path d="M388.52,326.90v1.6" stroke="#000" stroke-width="1.2"/>
<path d="M392.20,326.90v2.6" stroke="#000" stroke-width="1.2"/>
<path d="M395.88,326.90v1.6" stroke="#000" stroke-width="1.2"/>
<path d="M399.56,326.90v1.6" stroke="#000" stroke-width="1.2"/>
<path d="M403.24,326.90v1.6" stroke="#000" stroke-width="1.2"/>
<path d="M406.92,326.90v1.6" stroke="#000" stroke-width="1.2"/>
<path d="M410.60,326.90v2.6" stroke="#000" stroke-width="1.2"/>
<path d="M414.28,326.90v1.6" stroke="#000" stroke-width="1.2"/>
<path d="M417.96,326.90v1.6" stroke="#000" stroke-width="1.2"/>
<path d="M421.64,326.90v1.6" stroke="#000" stroke-width="1.2"/>
<path d="M425.32,326.90v1.6" stroke="#000" stroke-width="1.2"/>
<path d="M429.00,326.90v2.6" stroke="#000" stroke-width="1.2"/>
<path d="M432.68,326.90v1.6" stroke="#000" stroke-width="1.2"/>
<path d="M436.36,326.90v1.6" stroke="#000" stroke-width="1.2"/>
<path d="M440.04,326.90v1.6" stroke="#000" stroke-width="1.2"/>
<path d="M443.72,326.90v1.6" stroke="#000" stroke-width="1.2"/>
<path d="M447.40,326.90v2.6" stroke="#000" stroke-width="1.2"/>
<text transform="translate(348.80,326.80) rotate(-90)" class="yl">0</text>
<text x="355.40" y="335.30" class="tl">0</text>
<text x="373.80" y="335.30" class="tl">200</text>
<text x="392.20" y="335.30" class="tl">400</text>
<text x="410.60" y="335.30" class="tl">600</text>
<text x="429.00" y="335.30" class="tl">800</text>
<text x="447.40" y="335.30" class="tl">1000</text>
<path d="M387.90,261.30 L388.30,251.50 L389.40,251.50 L389.70,261.30Z" fill="#000"/>
<path d="M375.00,326.90 L381.80,326.90 L383.40,325.80 L383.90,325.86 L384.40,324.80 L384.77,323.75 L385.13,324.80 L385.50,323.75 L386.00,316.50 L386.30,300.80 L386.70,280.00 L386.80,273.75 L387.70,262.00 L388.30,259.00 L388.60,251.50 L389.10,248.00 L389.20,244.00 L389.30,248.00 L389.40,251.50 L389.50,259.00 L390.10,262.00 L390.30,273.75 L390.50,290.40 L390.90,295.60 L391.70,298.75 L392.05,299.05 L392.40,301.39 L392.75,301.90 L393.10,302.05 L393.45,303.83 L393.80,304.00 L394.30,304.45 L394.80,306.00 L395.35,296.70 L395.90,304.00 L396.40,307.10 L396.90,308.31 L397.40,308.10 L397.77,307.94 L398.13,309.48 L398.50,309.20 L399.00,307.60 L399.50,307.10 L399.87,306.97 L400.23,305.08 L400.60,305.00 L401.30,310.20 L401.70,311.47 L402.10,311.25 L402.47,311.26 L402.83,313.10 L403.20,313.30 L403.70,311.98 L404.20,311.80 L404.55,312.83 L404.90,312.04 L405.25,313.30 L405.60,313.36 L405.95,311.20 L406.30,311.25 L406.70,311.98 L407.10,310.50 L407.50,311.20 L407.90,311.98 L408.30,310.47 L408.70,311.20 L409.07,312.13 L409.43,311.18 L409.80,312.30 L410.20,313.89 L410.60,314.20 L411.00,314.28 L411.40,315.80 L411.77,316.06 L412.13,314.38 L412.50,314.60 L412.90,316.10 L413.30,315.78 L413.70,317.30 L414.50,312.70 L415.20,319.60 L416.00,313.50 L416.40,313.95 L416.80,312.72 L417.20,313.10 L417.55,314.99 L417.90,315.40 L418.30,315.21 L418.70,316.50 L419.20,310.80 L419.80,313.80 L420.20,315.60 L420.60,315.80 L421.00,315.85 L421.40,317.30 L421.80,319.11 L422.20,319.60 L422.57,319.65 L422.93,321.66 L423.30,321.90 L423.70,321.74 L424.10,323.59 L424.50,323.50 L424.87,323.46 L425.23,325.04 L425.60,325.00 L426.00,324.75 L426.40,325.80 L427.20,326.90" fill="none" stroke="#000" stroke-width="1.25" stroke-linejoin="miter" stroke-miterlimit="3"/>
<path d="M8.00,365.60H11.20V470.00" fill="none" stroke="#111" stroke-width="1.2"/>
<path d="M9.80,459.56H11.20" stroke="#000" stroke-width="1.1"/>
<path d="M9.80,449.12H11.20" stroke="#000" stroke-width="1.1"/>
<path d="M9.80,438.68H11.20" stroke="#000" stroke-width="1.1"/>
<path d="M9.80,428.24H11.20" stroke="#000" stroke-width="1.1"/>
<path d="M8.20,417.80H11.20" stroke="#000" stroke-width="1.1"/>
<path d="M9.80,407.36H11.20" stroke="#000" stroke-width="1.1"/>
<path d="M9.80,396.92H11.20" stroke="#000" stroke-width="1.1"/>
<path d="M9.80,386.48H11.20" stroke="#000" stroke-width="1.1"/>
<path d="M9.80,376.04H11.20" stroke="#000" stroke-width="1.1"/>
<path d="M6.60,470.00H101.90" stroke="#000" stroke-width="1.3"/>
<path d="M11.20,470.00v2.6" stroke="#000" stroke-width="1.2"/>
<path d="M14.73,470.00v1.6" stroke="#000" stroke-width="1.2"/>
<path d="M18.26,470.00v1.6" stroke="#000" stroke-width="1.2"/>
<path d="M21.80,470.00v1.6" stroke="#000" stroke-width="1.2"/>
<path d="M25.33,470.00v1.6" stroke="#000" stroke-width="1.2"/>
<path d="M28.86,470.00v2.6" stroke="#000" stroke-width="1.2"/>
<path d="M32.39,470.00v1.6" stroke="#000" stroke-width="1.2"/>
<path d="M35.92,470.00v1.6" stroke="#000" stroke-width="1.2"/>
<path d="M39.46,470.00v1.6" stroke="#000" stroke-width="1.2"/>
<path d="M42.99,470.00v1.6" stroke="#000" stroke-width="1.2"/>
<path d="M46.52,470.00v2.6" stroke="#000" stroke-width="1.2"/>
<path d="M50.05,470.00v1.6" stroke="#000" stroke-width="1.2"/>
<path d="M53.58,470.00v1.6" stroke="#000" stroke-width="1.2"/>
<path d="M57.12,470.00v1.6" stroke="#000" stroke-width="1.2"/>
<path d="M60.65,470.00v1.6" stroke="#000" stroke-width="1.2"/>
<path d="M64.18,470.00v2.6" stroke="#000" stroke-width="1.2"/>
<path d="M67.71,470.00v1.6" stroke="#000" stroke-width="1.2"/>
<path d="M71.24,470.00v1.6" stroke="#000" stroke-width="1.2"/>
<path d="M74.78,470.00v1.6" stroke="#000" stroke-width="1.2"/>
<path d="M78.31,470.00v1.6" stroke="#000" stroke-width="1.2"/>
<path d="M81.84,470.00v2.6" stroke="#000" stroke-width="1.2"/>
<path d="M85.37,470.00v1.6" stroke="#000" stroke-width="1.2"/>
<path d="M88.90,470.00v1.6" stroke="#000" stroke-width="1.2"/>
<path d="M92.44,470.00v1.6" stroke="#000" stroke-width="1.2"/>
<path d="M95.97,470.00v1.6" stroke="#000" stroke-width="1.2"/>
<path d="M99.50,470.00v2.6" stroke="#000" stroke-width="1.2"/>
<text transform="translate(4.60,469.90) rotate(-90)" class="yl">0</text>
<text x="11.20" y="478.40" class="tl">0</text>
<text x="28.86" y="478.40" class="tl">200</text>
<text x="46.52" y="478.40" class="tl">400</text>
<text x="64.18" y="478.40" class="tl">600</text>
<text x="81.84" y="478.40" class="tl">800</text>
<text x="99.50" y="478.40" class="tl">1000</text>
<path d="M30.00,470.00 L35.50,470.00 L36.90,470.00 L37.90,469.30 L38.90,468.75 L39.70,464.60 L40.30,451.00 L40.60,425.00 L40.60,417.90 L41.40,404.40 L41.50,395.00 L41.90,386.30 L42.30,386.50 L42.50,395.00 L42.60,403.80 L43.05,405.67 L43.50,406.00 L44.00,415.75 L43.80,425.00 L44.10,440.60 L44.90,451.00 L45.20,456.25 L45.70,457.13 L46.20,459.40 L46.57,460.83 L46.93,460.03 L47.30,461.50 L47.80,463.31 L48.30,464.00 L48.67,462.28 L49.03,462.70 L49.40,460.90 L49.90,459.89 L50.40,460.40 L50.90,461.61 L51.40,461.50 L51.77,460.77 L52.13,461.71 L52.50,460.90 L53.00,460.90 L53.50,462.50 L53.87,462.85 L54.23,461.58 L54.60,462.00 L55.10,464.33 L55.60,465.10 L56.10,463.18 L56.60,462.50 L57.00,463.17 L57.40,462.17 L57.80,463.65 L58.20,463.00 L58.55,462.25 L58.90,463.28 L59.25,462.50 L59.60,462.32 L59.95,464.24 L60.30,464.00 L60.75,463.26 L61.20,463.80 L61.57,464.07 L61.93,462.67 L62.30,463.10 L62.70,463.06 L63.10,461.52 L63.50,461.50 L63.85,463.04 L64.20,463.50 L64.60,462.66 L65.00,463.80 L65.40,463.10 L65.77,462.90 L66.13,464.63 L66.50,464.60 L66.90,463.72 L67.30,464.35 L67.70,463.50 L68.08,462.59 L68.45,463.85 L68.83,462.35 L69.20,462.70 L69.60,463.52 L70.00,462.75 L70.40,463.50 L70.77,465.19 L71.13,464.92 L71.50,466.50 L71.90,466.07 L72.30,464.60 L72.70,464.55 L73.10,466.54 L73.50,466.50 L73.87,466.54 L74.23,468.36 L74.60,468.50 L75.00,468.05 L75.40,469.62 L75.80,469.20 L76.90,470.00 L77.50,470.00" fill="none" stroke="#000" stroke-width="1.25" stroke-linejoin="miter" stroke-miterlimit="3"/>
<path d="M123.20,365.00H126.40V468.60" fill="none" stroke="#111" stroke-width="1.2"/>
<path d="M125.00,458.24H126.40" stroke="#000" stroke-width="1.1"/>
<path d="M125.00,447.88H126.40" stroke="#000" stroke-width="1.1"/>
<path d="M125.00,437.52H126.40" stroke="#000" stroke-width="1.1"/>
<path d="M125.00,427.16H126.40" stroke="#000" stroke-width="1.1"/>
<path d="M123.40,416.80H126.40" stroke="#000" stroke-width="1.1"/>
<path d="M125.00,406.44H126.40" stroke="#000" stroke-width="1.1"/>
<path d="M125.00,396.08H126.40" stroke="#000" stroke-width="1.1"/>
<path d="M125.00,385.72H126.40" stroke="#000" stroke-width="1.1"/>
<path d="M125.00,375.36H126.40" stroke="#000" stroke-width="1.1"/>
<path d="M121.80,468.60H216.00" stroke="#000" stroke-width="1.3"/>
<path d="M126.40,468.60v2.6" stroke="#000" stroke-width="1.2"/>
<path d="M129.89,468.60v1.6" stroke="#000" stroke-width="1.2"/>
<path d="M133.38,468.60v1.6" stroke="#000" stroke-width="1.2"/>
<path d="M136.86,468.60v1.6" stroke="#000" stroke-width="1.2"/>
<path d="M140.35,468.60v1.6" stroke="#000" stroke-width="1.2"/>
<path d="M143.84,468.60v2.6" stroke="#000" stroke-width="1.2"/>
<path d="M147.33,468.60v1.6" stroke="#000" stroke-width="1.2"/>
<path d="M150.82,468.60v1.6" stroke="#000" stroke-width="1.2"/>
<path d="M154.30,468.60v1.6" stroke="#000" stroke-width="1.2"/>
<path d="M157.79,468.60v1.6" stroke="#000" stroke-width="1.2"/>
<path d="M161.28,468.60v2.6" stroke="#000" stroke-width="1.2"/>
<path d="M164.77,468.60v1.6" stroke="#000" stroke-width="1.2"/>
<path d="M168.26,468.60v1.6" stroke="#000" stroke-width="1.2"/>
<path d="M171.74,468.60v1.6" stroke="#000" stroke-width="1.2"/>
<path d="M175.23,468.60v1.6" stroke="#000" stroke-width="1.2"/>
<path d="M178.72,468.60v2.6" stroke="#000" stroke-width="1.2"/>
<path d="M182.21,468.60v1.6" stroke="#000" stroke-width="1.2"/>
<path d="M185.70,468.60v1.6" stroke="#000" stroke-width="1.2"/>
<path d="M189.18,468.60v1.6" stroke="#000" stroke-width="1.2"/>
<path d="M192.67,468.60v1.6" stroke="#000" stroke-width="1.2"/>
<path d="M196.16,468.60v2.6" stroke="#000" stroke-width="1.2"/>
<path d="M199.65,468.60v1.6" stroke="#000" stroke-width="1.2"/>
<path d="M203.14,468.60v1.6" stroke="#000" stroke-width="1.2"/>
<path d="M206.62,468.60v1.6" stroke="#000" stroke-width="1.2"/>
<path d="M210.11,468.60v1.6" stroke="#000" stroke-width="1.2"/>
<path d="M213.60,468.60v2.6" stroke="#000" stroke-width="1.2"/>
<text transform="translate(119.80,468.50) rotate(-90)" class="yl">0</text>
<text x="126.40" y="477.00" class="tl">0</text>
<text x="143.84" y="477.00" class="tl">200</text>
<text x="161.28" y="477.00" class="tl">400</text>
<text x="178.72" y="477.00" class="tl">600</text>
<text x="196.16" y="477.00" class="tl">800</text>
<text x="213.60" y="477.00" class="tl">1000</text>
<path d="M145.00,468.60 L151.30,467.80 L151.80,467.93 L152.30,467.00 L152.70,466.12 L153.10,467.33 L153.50,465.84 L153.90,466.30 L154.40,466.57 L154.90,465.75 L155.25,461.60 L155.70,432.40 L155.50,402.40 L155.93,401.47 L156.37,402.74 L156.80,401.80 L157.00,394.25 L157.00,390.00 L157.20,384.00 L157.50,387.00 L157.70,391.00 L157.90,394.25 L158.50,398.00 L159.00,410.50 L159.40,422.00 L159.80,432.40 L160.50,442.80 L160.70,456.40 L161.20,456.51 L161.70,457.90 L162.05,458.21 L162.40,456.68 L162.75,456.90 L163.10,458.25 L163.45,458.03 L163.80,459.50 L164.30,459.67 L164.80,458.50 L165.17,458.66 L165.53,460.57 L165.90,460.50 L166.40,459.20 L166.90,459.00 L167.27,459.89 L167.63,459.17 L168.00,460.00 L168.50,461.60 L169.00,461.60 L169.50,460.58 L170.00,461.00 L170.37,461.43 L170.73,459.66 L171.10,460.00 L171.60,461.54 L172.10,462.10 L172.47,461.15 L172.83,462.01 L173.20,461.00 L173.70,461.28 L174.20,462.60 L174.55,462.68 L174.90,460.60 L175.25,460.50 L175.60,461.40 L175.95,460.49 L176.30,461.60 L176.55,461.72 L176.80,460.80 L177.15,459.02 L177.50,458.80 L177.90,459.28 L178.30,458.50 L178.70,458.79 L179.10,460.40 L179.45,461.54 L179.80,461.50 L180.20,461.06 L180.60,461.90 L181.00,461.54 L181.40,459.61 L181.80,459.20 L182.15,460.36 L182.50,460.00 L182.90,458.69 L183.30,458.50 L183.70,459.98 L184.10,460.00 L184.45,458.50 L184.80,458.10 L185.10,458.29 L185.40,456.90 L186.00,459.20 L186.40,459.23 L186.80,460.80 L187.15,462.47 L187.50,462.70 L187.90,462.53 L188.30,463.80 L188.70,465.07 L189.10,465.00 L189.47,464.79 L189.83,466.52 L190.20,466.50 L190.60,466.27 L191.00,468.04 L191.40,467.70 L192.20,468.60 L193.00,468.60" fill="none" stroke="#000" stroke-width="1.25" stroke-linejoin="miter" stroke-miterlimit="3"/>
<path d="M237.80,364.10H241.00V467.20" fill="none" stroke="#111" stroke-width="1.2"/>
<path d="M239.60,456.89H241.00" stroke="#000" stroke-width="1.1"/>
<path d="M239.60,446.58H241.00" stroke="#000" stroke-width="1.1"/>
<path d="M239.60,436.27H241.00" stroke="#000" stroke-width="1.1"/>
<path d="M239.60,425.96H241.00" stroke="#000" stroke-width="1.1"/>
<path d="M238.00,415.65H241.00" stroke="#000" stroke-width="1.1"/>
<path d="M239.60,405.34H241.00" stroke="#000" stroke-width="1.1"/>
<path d="M239.60,395.03H241.00" stroke="#000" stroke-width="1.1"/>
<path d="M239.60,384.72H241.00" stroke="#000" stroke-width="1.1"/>
<path d="M239.60,374.41H241.00" stroke="#000" stroke-width="1.1"/>
<path d="M236.40,467.20H330.90" stroke="#000" stroke-width="1.3"/>
<path d="M241.00,467.20v2.6" stroke="#000" stroke-width="1.2"/>
<path d="M244.50,467.20v1.6" stroke="#000" stroke-width="1.2"/>
<path d="M248.00,467.20v1.6" stroke="#000" stroke-width="1.2"/>
<path d="M251.50,467.20v1.6" stroke="#000" stroke-width="1.2"/>
<path d="M255.00,467.20v1.6" stroke="#000" stroke-width="1.2"/>
<path d="M258.50,467.20v2.6" stroke="#000" stroke-width="1.2"/>
<path d="M262.00,467.20v1.6" stroke="#000" stroke-width="1.2"/>
<path d="M265.50,467.20v1.6" stroke="#000" stroke-width="1.2"/>
<path d="M269.00,467.20v1.6" stroke="#000" stroke-width="1.2"/>
<path d="M272.50,467.20v1.6" stroke="#000" stroke-width="1.2"/>
<path d="M276.00,467.20v2.6" stroke="#000" stroke-width="1.2"/>
<path d="M279.50,467.20v1.6" stroke="#000" stroke-width="1.2"/>
<path d="M283.00,467.20v1.6" stroke="#000" stroke-width="1.2"/>
<path d="M286.50,467.20v1.6" stroke="#000" stroke-width="1.2"/>
<path d="M290.00,467.20v1.6" stroke="#000" stroke-width="1.2"/>
<path d="M293.50,467.20v2.6" stroke="#000" stroke-width="1.2"/>
<path d="M297.00,467.20v1.6" stroke="#000" stroke-width="1.2"/>
<path d="M300.50,467.20v1.6" stroke="#000" stroke-width="1.2"/>
<path d="M304.00,467.20v1.6" stroke="#000" stroke-width="1.2"/>
<path d="M307.50,467.20v1.6" stroke="#000" stroke-width="1.2"/>
<path d="M311.00,467.20v2.6" stroke="#000" stroke-width="1.2"/>
<path d="M314.50,467.20v1.6" stroke="#000" stroke-width="1.2"/>
<path d="M318.00,467.20v1.6" stroke="#000" stroke-width="1.2"/>
<path d="M321.50,467.20v1.6" stroke="#000" stroke-width="1.2"/>
<path d="M325.00,467.20v1.6" stroke="#000" stroke-width="1.2"/>
<path d="M328.50,467.20v2.6" stroke="#000" stroke-width="1.2"/>
<text transform="translate(234.40,467.10) rotate(-90)" class="yl">0</text>
<text x="241.00" y="475.60" class="tl">0</text>
<text x="258.50" y="475.60" class="tl">200</text>
<text x="276.00" y="475.60" class="tl">400</text>
<text x="293.50" y="475.60" class="tl">600</text>
<text x="311.00" y="475.60" class="tl">800</text>
<text x="328.50" y="475.60" class="tl">1000</text>
<path d="M269.50,416.00 L270.20,410.00 L271.20,403.50 L271.90,403.50 L273.20,410.00 L273.40,416.00Z" fill="#111"/>
<path d="M273.90,426.50 L278.00,428.00 L278.10,440.80 L273.90,440.80Z" fill="#bbb"/>
<path d="M279.30,446.00 L296.00,447.00 L296.00,449.00 L293.60,455.00 L279.50,451.00Z" fill="#666"/>
<path d="M302.80,451.70 L304.50,451.70 L304.50,456.20 L302.80,456.20Z" fill="#111"/>
<path d="M304.50,455.00 L310.40,455.00 L310.40,461.70 L304.50,461.70Z" fill="#111"/>
<path d="M258.00,467.20 L263.90,467.20 L264.10,464.00 L264.90,461.70 L265.40,457.50 L266.40,454.40 L267.25,449.20 L267.50,441.90 L268.50,436.70 L269.00,432.50 L269.50,425.20 L269.50,416.00 L270.20,410.00 L271.20,403.50 L271.60,394.70 L271.90,403.50 L273.20,410.00 L273.40,415.00 L273.90,426.20 L273.90,440.30 L274.30,426.00 L275.30,424.40 L275.70,440.00 L276.20,426.00 L277.60,427.20 L278.10,441.20 L279.00,441.20 L279.00,446.00 L279.50,450.60 L280.50,446.00 L281.40,441.20 L281.80,450.00 L282.30,435.60 L282.80,450.00 L283.20,443.10 L283.70,451.50 L284.20,456.20 L284.60,447.00 L285.10,446.90 L286.10,447.10 L286.50,446.90 L287.30,441.30 L287.50,441.20 L287.90,447.80 L288.40,451.70 L288.90,450.60 L289.30,456.20 L289.60,451.70 L290.30,450.60 L290.70,455.10 L291.20,446.90 L291.70,456.20 L291.90,447.10 L292.40,452.80 L292.60,450.60 L293.60,455.10 L294.00,450.60 L294.70,448.20 L295.90,447.10 L297.60,445.90 L298.50,440.80 L299.30,447.10 L300.50,449.40 L301.00,451.10 L302.80,451.70 L303.30,455.70 L304.50,456.20 L304.50,455.00 L305.00,458.50 L306.20,457.40 L309.10,457.40 L309.60,460.80 L310.40,461.70 L311.20,462.00 L311.20,467.20 L312.00,467.20" fill="none" stroke="#000" stroke-width="1.25" stroke-linejoin="miter" stroke-miterlimit="3"/>
<path d="M265.60,467.20 L265.90,463.00 L266.90,459.00 L267.90,454.00 L268.40,447.00 L269.00,441.00 L269.60,436.00 L270.20,428.00" fill="none" stroke="#000" stroke-width="1.1"/>
<path d="M353.00,363.40H356.20V465.50" fill="none" stroke="#111" stroke-width="1.2"/>
<path d="M354.80,455.29H356.20" stroke="#000" stroke-width="1.1"/>
<path d="M354.80,445.08H356.20" stroke="#000" stroke-width="1.1"/>
<path d="M354.80,434.87H356.20" stroke="#000" stroke-width="1.1"/>
<path d="M354.80,424.66H356.20" stroke="#000" stroke-width="1.1"/>
<path d="M353.20,414.45H356.20" stroke="#000" stroke-width="1.1"/>
<path d="M354.80,404.24H356.20" stroke="#000" stroke-width="1.1"/>
<path d="M354.80,394.03H356.20" stroke="#000" stroke-width="1.1"/>
<path d="M354.80,383.82H356.20" stroke="#000" stroke-width="1.1"/>
<path d="M354.80,373.61H356.20" stroke="#000" stroke-width="1.1"/>
<path d="M351.60,465.50H450.80" stroke="#000" stroke-width="1.3"/>
<path d="M356.20,465.50v2.6" stroke="#000" stroke-width="1.2"/>
<path d="M359.89,465.50v1.6" stroke="#000" stroke-width="1.2"/>
<path d="M363.58,465.50v1.6" stroke="#000" stroke-width="1.2"/>
<path d="M367.26,465.50v1.6" stroke="#000" stroke-width="1.2"/>
<path d="M370.95,465.50v1.6" stroke="#000" stroke-width="1.2"/>
<path d="M374.64,465.50v2.6" stroke="#000" stroke-width="1.2"/>
<path d="M378.33,465.50v1.6" stroke="#000" stroke-width="1.2"/>
<path d="M382.02,465.50v1.6" stroke="#000" stroke-width="1.2"/>
<path d="M385.70,465.50v1.6" stroke="#000" stroke-width="1.2"/>
<path d="M389.39,465.50v1.6" stroke="#000" stroke-width="1.2"/>
<path d="M393.08,465.50v2.6" stroke="#000" stroke-width="1.2"/>
<path d="M396.77,465.50v1.6" stroke="#000" stroke-width="1.2"/>
<path d="M400.46,465.50v1.6" stroke="#000" stroke-width="1.2"/>
<path d="M404.14,465.50v1.6" stroke="#000" stroke-width="1.2"/>
<path d="M407.83,465.50v1.6" stroke="#000" stroke-width="1.2"/>
<path d="M411.52,465.50v2.6" stroke="#000" stroke-width="1.2"/>
<path d="M415.21,465.50v1.6" stroke="#000" stroke-width="1.2"/>
<path d="M418.90,465.50v1.6" stroke="#000" stroke-width="1.2"/>
<path d="M422.58,465.50v1.6" stroke="#000" stroke-width="1.2"/>
<path d="M426.27,465.50v1.6" stroke="#000" stroke-width="1.2"/>
<path d="M429.96,465.50v2.6" stroke="#000" stroke-width="1.2"/>
<path d="M433.65,465.50v1.6" stroke="#000" stroke-width="1.2"/>
<path d="M437.34,465.50v1.6" stroke="#000" stroke-width="1.2"/>
<path d="M441.02,465.50v1.6" stroke="#000" stroke-width="1.2"/>
<path d="M444.71,465.50v1.6" stroke="#000" stroke-width="1.2"/>
<path d="M448.40,465.50v2.6" stroke="#000" stroke-width="1.2"/>
<text transform="translate(349.60,465.40) rotate(-90)" class="yl">0</text>
<text x="356.20" y="473.90" class="tl">0</text>
<text x="374.64" y="473.90" class="tl">200</text>
<text x="393.08" y="473.90" class="tl">400</text>
<text x="411.52" y="473.90" class="tl">600</text>
<text x="429.96" y="473.90" class="tl">800</text>
<text x="448.40" y="473.90" class="tl">1000</text>
<path d="M387.00,383.20 L388.80,383.20 L389.90,393.00 L386.80,393.00Z" fill="#999"/>
<path d="M375.00,465.50 L380.50,465.50 L380.75,465.50 L381.00,464.00 L381.41,463.12 L381.82,464.57 L382.24,463.19 L382.65,464.27 L383.06,462.88 L383.48,464.05 L383.89,462.78 L384.30,463.20 L384.70,463.34 L385.10,461.78 L385.50,462.00 L385.70,449.40 L386.00,426.50 L386.30,420.00 L386.80,393.00 L386.90,383.20 L387.10,376.00 L387.40,372.90 L387.80,375.00 L388.30,379.00 L388.80,383.20 L389.90,393.00 L390.00,415.00 L390.60,432.20 L391.40,437.90 L391.40,455.10 L391.85,455.95 L392.30,455.70 L392.70,455.64 L393.10,457.32 L393.50,457.40 L393.87,455.93 L394.23,456.17 L394.60,454.50 L395.00,454.85 L395.40,457.08 L395.80,457.40 L396.17,456.12 L396.53,456.86 L396.90,455.70 L397.30,455.97 L397.70,457.96 L398.10,458.00 L398.47,456.93 L398.83,457.89 L399.20,456.80 L399.57,456.89 L399.93,459.12 L400.30,459.10 L400.70,457.94 L401.10,458.69 L401.50,457.40 L401.87,457.17 L402.23,458.80 L402.60,458.50 L403.00,457.44 L403.40,458.35 L403.80,457.40 L404.17,457.46 L404.53,459.17 L404.90,459.10 L405.33,458.56 L405.77,460.10 L406.20,459.60 L406.57,458.48 L406.93,459.29 L407.30,458.10 L407.70,458.31 L408.10,459.60 L408.47,459.24 L408.83,457.22 L409.20,456.90 L409.60,458.99 L410.00,459.60 L410.40,458.42 L410.80,458.85 L411.20,457.70 L411.57,458.36 L411.93,460.53 L412.30,461.20 L413.10,458.10 L413.47,456.77 L413.83,457.23 L414.20,455.80 L414.60,455.69 L415.00,457.65 L415.40,457.70 L415.80,455.95 L416.20,455.40 L416.57,455.84 L416.93,454.56 L417.30,455.00 L417.70,455.86 L418.10,454.61 L418.50,455.40 L418.85,456.91 L419.20,457.30 L419.60,457.74 L420.00,459.20 L420.40,460.13 L420.80,459.60 L421.15,459.49 L421.50,460.80 L421.90,462.30 L422.30,462.30 L422.70,462.14 L423.10,463.75 L423.50,463.50 L423.87,463.09 L424.23,464.90 L424.60,464.60 L425.40,465.50 L426.00,465.50" fill="none" stroke="#000" stroke-width="1.25" stroke-linejoin="miter" stroke-miterlimit="3"/>
</svg>
</body></html>
